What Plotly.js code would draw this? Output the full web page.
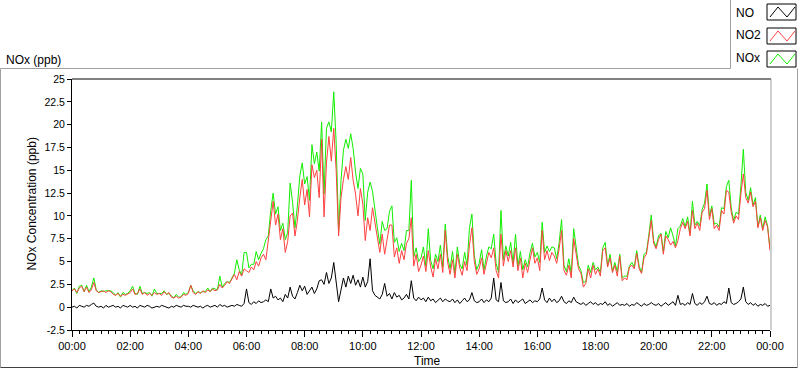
<!DOCTYPE html>
<html>
<head>
<meta charset="utf-8">
<script src="https://cdn.plot.ly/plotly-3.0.1.min.js"></script>
<style>
  html, body { margin: 0; padding: 0; background: #ffffff; }
  #chart { width: 800px; height: 369px; }
</style>
</head>
<body>
<div id="chart"></div>
<script>
// ---- data: 5-minute samples, 00:00 .. 24:00 (one row per hour) ----
const stepMinutes = 5;

const noValues = [
  0.0,0.1,-0.1,0.2,0.1,0.0,0.2,0.1,0.3,0.45,0.1,0.0,
  0.1,-0.1,0.2,0.0,0.1,0.2,0.0,0.1,-0.1,0.2,0.1,0.0,
  0.2,0.0,0.1,-0.1,0.2,0.1,0.0,0.2,0.1,-0.1,0.0,0.1,
  0.0,0.2,0.1,0.0,-0.1,0.1,0.0,0.2,0.1,0.0,0.2,0.1,
  0.1,0.0,0.2,0.1,0.0,0.1,-0.1,0.1,0.2,0.0,0.1,0.2,
  0.0,0.3,0.1,0.2,0.0,0.1,0.2,0.1,0.3,0.2,0.1,0.4,
  2.0,0.5,0.3,0.6,0.4,0.7,0.5,0.6,0.8,0.6,2.0,1.0,
  1.2,0.8,1.0,0.6,1.4,1.0,2.2,1.2,0.9,1.6,2.4,1.8,
  2.3,1.4,1.8,2.2,1.5,2.0,2.9,3.0,2.5,3.8,2.6,3.2,
  4.9,3.0,0.6,1.9,3.2,2.2,3.4,2.6,3.5,2.4,3.0,2.2,
  3.3,2.2,2.8,5.3,1.8,1.3,1.1,0.9,1.4,2.6,1.2,1.5,
  0.9,1.6,1.1,1.3,0.8,1.0,1.4,0.9,2.9,1.0,0.7,1.1,
  0.8,1.0,0.6,1.1,0.7,0.9,0.5,0.8,1.0,0.6,0.9,0.7,
  0.6,0.9,0.5,0.8,0.4,0.7,1.0,0.6,0.8,1.6,0.7,0.5,
  0.6,0.9,0.5,0.8,0.6,1.0,3.2,0.8,0.6,2.7,0.7,0.5,
  0.6,0.9,0.4,0.8,0.5,0.7,0.9,0.4,0.6,0.8,0.5,0.7,
  0.6,0.9,2.1,0.8,0.5,1.0,0.6,0.9,0.5,0.7,1.2,0.6,
  0.4,0.7,0.5,1.1,0.6,0.4,0.3,0.5,0.2,0.4,0.6,0.3,
  0.5,0.2,0.4,0.3,0.6,0.2,0.4,0.1,0.3,0.5,0.2,0.3,
  0.2,0.4,0.1,0.3,0.2,0.5,0.3,0.1,0.4,0.2,0.3,0.5,
  0.3,0.2,0.4,0.1,0.3,0.5,0.2,0.4,0.6,0.2,1.3,0.3,
  0.4,0.2,0.5,0.3,1.5,0.4,0.2,0.5,0.3,0.6,1.2,0.4,
  0.3,0.5,0.2,0.4,0.3,0.6,0.4,2.1,0.5,0.3,0.4,0.6,
  0.9,2.2,0.6,0.3,0.5,0.2,0.4,0.1,0.3,0.2,0.4,0.1,
  0.2
];

const no2Values = [
  1.8,2.0,1.6,2.1,2.3,1.7,2.2,1.6,1.9,2.7,1.8,1.6,
  1.7,1.8,1.6,1.8,1.7,1.4,1.3,1.5,1.2,1.4,1.3,1.5,
  1.6,2.0,1.4,1.5,2.0,1.4,1.6,1.3,1.5,1.3,1.6,1.4,
  1.5,1.3,1.7,1.4,1.6,1.1,1.0,1.2,1.0,1.1,1.4,1.3,
  1.5,2.4,1.6,1.4,1.7,1.5,1.8,1.6,1.9,1.7,2.0,1.8,
  1.9,2.5,2.1,2.4,2.8,2.6,3.1,3.6,3.0,3.9,3.4,4.2,
  4.0,3.8,4.4,4.1,5.0,4.5,5.4,5.8,5.2,7.2,9.6,11.6,
  9.0,10.2,7.4,8.6,6.0,7.2,10.0,10.3,7.8,9.5,12.0,14.0,
  11.2,12.9,9.9,15.6,14.2,15.0,12.0,18.4,9.9,15.8,18.7,16.0,
  19.6,15.0,7.8,12.0,14.0,15.4,14.0,16.4,13.9,12.4,10.0,13.0,
  11.3,7.3,9.8,8.4,10.9,9.1,7.6,6.0,8.0,5.8,7.4,9.0,
  9.0,5.5,6.5,4.8,6.2,5.2,7.0,7.5,9.8,4.5,5.8,3.9,
  4.6,5.6,3.9,6.2,4.4,3.3,5.3,4.2,5.8,3.8,8.4,4.9,
  3.6,5.2,3.2,5.8,4.3,3.5,5.0,4.0,6.8,8.7,5.0,3.6,
  4.2,5.4,3.6,4.8,6.0,5.4,6.5,4.0,3.2,8.0,4.5,6.2,
  5.0,6.2,4.4,6.5,4.0,5.4,3.2,4.8,3.8,5.2,6.5,4.8,
  5.4,4.0,8.4,5.2,6.2,5.1,6.0,5.6,4.8,6.4,8.4,4.0,
  3.5,4.6,3.2,7.5,5.8,4.2,3.7,2.2,2.6,4.2,3.2,4.6,
  3.6,4.2,3.4,6.2,6.5,4.4,5.4,3.8,4.6,3.4,5.6,2.9,
  3.2,3.0,4.4,4.6,4.2,5.9,4.2,3.7,5.4,5.8,7.6,9.5,
  7.0,6.4,7.4,8.0,5.8,7.8,7.4,6.8,7.2,6.5,7.3,8.6,
  9.3,8.6,9.4,7.8,10.6,8.6,9.2,8.4,10.4,10.8,12.8,9.6,
  10.8,8.6,9.0,8.4,10.6,10.2,12.8,12.6,10.4,9.2,10.0,9.6,
  12.4,14.6,12.0,11.4,12.6,11.0,11.6,8.7,9.8,8.4,9.5,8.8,
  6.2
];

const noxValues = [
  1.8,2.1,1.5,2.3,2.4,1.7,2.4,1.7,2.2,3.2,1.9,1.6,
  1.8,1.7,1.8,1.8,1.8,1.6,1.3,1.6,1.1,1.6,1.4,1.5,
  1.8,2.3,1.5,1.4,2.3,1.5,1.6,1.5,1.6,1.2,2.0,1.5,
  1.5,1.5,1.8,1.4,1.5,1.2,1.0,1.4,1.1,1.1,1.6,1.4,
  1.6,2.4,1.8,1.5,1.7,1.6,1.7,1.7,2.1,1.7,2.1,2.0,
  1.9,3.4,2.2,2.6,2.8,2.7,3.3,3.7,5.2,4.1,3.5,6.0,
  6.0,4.3,4.7,4.7,6.1,5.2,5.9,6.4,7.4,7.8,10.6,12.5,
  10.2,11.0,8.4,9.2,7.4,8.2,13.6,11.5,8.7,11.1,14.4,15.8,
  13.5,14.3,11.7,17.8,15.7,17.0,14.9,20.3,12.4,19.6,20.3,19.2,
  23.6,18.0,8.4,13.9,17.2,18.4,17.4,19.0,17.4,14.8,13.0,15.2,
  14.6,9.5,12.6,13.7,12.7,10.4,8.7,6.9,9.4,8.4,8.6,10.5,
  11.1,7.1,7.6,6.1,7.0,6.2,8.4,8.4,13.9,5.5,6.5,5.0,
  5.4,6.6,4.5,8.6,5.1,4.2,5.8,5.0,6.8,4.4,9.1,5.6,
  4.2,6.1,3.7,6.6,4.7,4.2,6.0,4.6,8.7,10.2,5.7,4.1,
  4.8,6.3,4.1,5.6,6.6,6.4,8.0,4.8,3.8,10.6,5.2,6.7,
  5.6,7.1,4.8,8.0,4.5,6.1,4.1,5.2,4.4,6.0,7.0,5.5,
  6.0,4.9,9.3,6.0,6.7,6.1,6.6,6.5,5.3,7.1,9.6,4.6,
  3.9,5.3,3.7,8.6,6.4,4.6,4.0,2.7,2.8,4.6,3.8,4.9,
  4.1,4.4,3.8,6.5,7.1,4.6,5.8,3.9,4.9,3.9,5.8,3.2,
  3.4,3.4,4.5,4.9,4.4,6.2,4.5,3.8,5.8,6.0,7.9,10.1,
  7.3,6.6,7.8,8.1,6.1,8.3,7.6,8.7,7.8,6.7,8.6,8.9,
  9.7,8.8,9.9,8.1,11.6,9.0,9.4,8.9,10.7,11.4,13.5,10.0,
  11.1,9.1,9.2,8.8,10.9,10.8,13.2,13.9,10.9,9.5,10.4,10.2,
  13.3,17.3,12.6,11.7,13.1,11.2,12.0,8.8,10.1,8.6,9.9,8.9,
  6.4
];

const seriesNames = ["NO", "NO2", "NOx"];
const xTickMinutes = [0,120,240,360,480,600,720,840,960,1080,1200,1320,1440];
const xTickLabels = ["00:00","02:00","04:00","06:00","08:00","10:00","12:00","14:00","16:00","18:00","20:00","22:00","00:00"];
const yTickValues = [-2.5,0,2.5,5,7.5,10,12.5,15,17.5,20,22.5,25];
const yTickLabels = ["-2.5","0","2.5","5","7.5","10","12.5","15","17.5","20","22.5","25"];

// ---- rendering ----
const minutes = noValues.map((_, i) => i * stepMinutes);
const FONT = "Liberation Sans, Arial, sans-serif";
const colors = { NO: "#000000", NO2: "#ff4040", NOx: "#11ee00" };

// plot area in pixels
const L = 72, R = 770, T = 79, B = 330;
const fx = px => (px - L) / (R - L);
const fy = py => (B - py) / (B - T);

const traces = [
  { x: minutes, y: noxValues, name: seriesNames[2], type: "scatter", mode: "lines",
    line: { color: colors.NOx, width: 1 }, hoverinfo: "skip" },
  { x: minutes, y: no2Values, name: seriesNames[1], type: "scatter", mode: "lines",
    line: { color: colors.NO2, width: 1 }, hoverinfo: "skip" },
  { x: minutes, y: noValues, name: seriesNames[0], type: "scatter", mode: "lines",
    line: { color: colors.NO, width: 1 }, hoverinfo: "skip" }
];

function line(x0, y0, x1, y1, color) {
  return { type: "line", xref: "paper", yref: "paper", x0: fx(x0), y0: fy(y0), x1: fx(x1), y1: fy(y1),
           line: { color: color, width: 1 }, layer: "above" };
}
function zigzag(top, bottom, color) {
  const pts = [[770, bottom], [778, top], [787, bottom], [795, top]];
  const path = pts.map((p, i) => (i ? "L" : "M") + fx(p[0]) + "," + fy(p[1])).join(" ");
  return { type: "path", xref: "paper", yref: "paper", path: path, line: { color: color, width: 1 } };
}
function box(x0, y0, x1, y1) {
  return { type: "rect", xref: "paper", yref: "paper", x0: fx(x0), y0: fy(y0), x1: fx(x1), y1: fy(y1),
           line: { color: "#000000", width: 1 }, fillcolor: "#ffffff" };
}

const shapes = [
  line(L, T, R + 1, T, "#000000"),          // plot top
  line(R + 1, T, R + 1, B, "#a0a0a0"),      // plot right
  line(0.5, 68.5, 730.5, 68.5, "#a0a0a0"),  // outer frame top
  line(730.5, 0, 730.5, 68.5, "#a0a0a0"),   // legend left
  line(0.5, 68.5, 0.5, 367.5, "#a0a0a0"),   // outer left
  line(0.5, 367.5, 797.5, 367.5, "#404040"),// outer bottom
  line(797.5, 68.5, 797.5, 367.5, "#a0a0a0"),// outer right
  box(767, 4, 796, 20), zigzag(7, 17, colors.NO),
  box(767, 28, 796, 44), zigzag(31, 41, colors.NO2),
  box(767, 51, 796, 67), zigzag(54, 64, colors.NOx)
];

function label(text, px, py, opts) {
  return Object.assign({ text: text, xref: "paper", yref: "paper", x: fx(px), y: fy(py),
    showarrow: false, xanchor: "left", yanchor: "middle",
    font: { family: FONT, size: 12, color: "#000000" } }, opts || {});
}

const annotations = [
  label("NOx (ppb)", 4, 59.5),
  label("NOx Concentration (ppb)", 31, 204.5, { xanchor: "center", textangle: -90 }),
  label("Time", 427, 361, { xanchor: "center" }),
  label(seriesNames[0], 734, 13),
  label(seriesNames[1], 734, 35.5),
  label(seriesNames[2], 734, 58)
];

const layout = {
  width: 800, height: 369,
  margin: { l: L, r: 800 - R, t: T, b: 369 - B, pad: 0 },
  paper_bgcolor: "#ffffff", plot_bgcolor: "#ffffff",
  showlegend: false,
  xaxis: {
    type: "linear", range: [0, 1440], showgrid: false, zeroline: false,
    showline: true, linecolor: "#000000", linewidth: 1,
    tickmode: "array", tickvals: xTickMinutes, ticktext: xTickLabels,
    ticks: "outside", ticklen: 6, tickcolor: "#000000", tickwidth: 1,
    tickfont: { family: FONT, size: 11, color: "#000000" },
    minor: { dtick: 15, tick0: 0, ticks: "outside", ticklen: 3, tickcolor: "#000000", tickwidth: 1, showgrid: false },
    fixedrange: true
  },
  yaxis: {
    range: [-2.5, 25], showgrid: false, zeroline: false,
    showline: true, linecolor: "#000000", linewidth: 1,
    tickmode: "array", tickvals: yTickValues, ticktext: yTickLabels,
    ticks: "outside", ticklen: 4, tickcolor: "#000000", tickwidth: 1,
    tickfont: { family: FONT, size: 10.5, color: "#000000" },
    fixedrange: true
  },
  shapes: shapes,
  annotations: annotations
};

Plotly.newPlot("chart", traces, layout, { staticPlot: true, displayModeBar: false });
</script>
</body>
</html>
